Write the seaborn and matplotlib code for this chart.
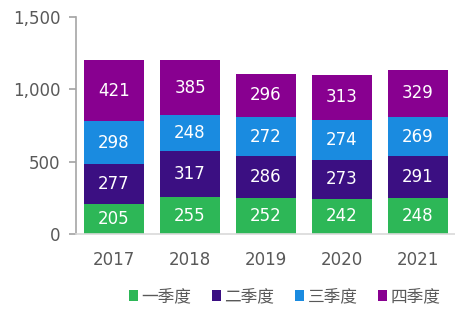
import matplotlib
matplotlib.use("Agg")
import matplotlib.pyplot as plt
import seaborn as sns
import pandas as pd
import numpy as np
from matplotlib.ticker import FuncFormatter
from matplotlib.patches import Patch

years = ["2017", "2018", "2019", "2020", "2021"]
series_names = ["一季度", "二季度", "三季度", "四季度"]
q1 = [205, 255, 252, 242, 248]
q2 = [277, 317, 286, 273, 291]
q3 = [298, 248, 272, 274, 269]
q4 = [421, 385, 296, 313, 329]
colors = ["#2DB757", "#3B0F82", "#1A8BE0", "#880090"]

sns.set_theme(style="white")
plt.rcParams['font.family'] = ['DejaVu Sans', 'Noto Sans CJK SC']

fig = plt.figure(figsize=(4.56, 3.22), dpi=100)
ax = fig.add_axes([0.1667, 0.2733, 0.8333, 0.6737])

vals = [q1, q2, q3, q4]
cum = np.cumsum(np.array(vals), axis=0)
for i in range(3, -1, -1):
    df = pd.DataFrame({"year": years, "v": cum[i]})
    sns.barplot(data=df, x="year", y="v", color=colors[i], width=0.79,
                saturation=1, ax=ax, edgecolor="none", linewidth=0)

for i in range(4):
    for j in range(len(years)):
        base = cum[i][j] - vals[i][j]
        ax.text(j, base + vals[i][j] / 2, str(vals[i][j]), ha="center", va="center",
                color="white", fontsize=12)

ax.set_ylim(0, 1500)
ax.set_xlim(-0.5, 4.5)
ax.set_yticks([0, 500, 1000, 1500])
ax.yaxis.set_major_formatter(FuncFormatter(lambda v, p: f"{int(v):,}"))
ax.set_xlabel("")
ax.set_ylabel("")
for s in ["top", "right"]:
    ax.spines[s].set_visible(False)
ax.spines["left"].set_color("#A6A6A6")
ax.spines["left"].set_linewidth(1.2)
ax.spines["bottom"].set_color("#D9D9D9")
ax.spines["bottom"].set_linewidth(1.2)
ax.tick_params(axis="y", left=True, length=5, color="#A6A6A6", labelsize=12,
               labelcolor="#595959", pad=6)
ax.tick_params(axis="x", bottom=False, labelsize=12, labelcolor="#595959", pad=6)

handles = [Patch(facecolor=c, edgecolor="none") for c in colors]
fig.legend(handles, series_names, loc="center", bbox_to_anchor=(0.624, 0.078), ncol=4,
           frameon=False, handlelength=0.55, handleheight=0.55, handletextpad=0.2,
           columnspacing=1.25, prop={"family": ["Noto Sans CJK SC"], "size": 12},
           labelcolor="#595959")

fig.savefig("out.png", dpi=100)
